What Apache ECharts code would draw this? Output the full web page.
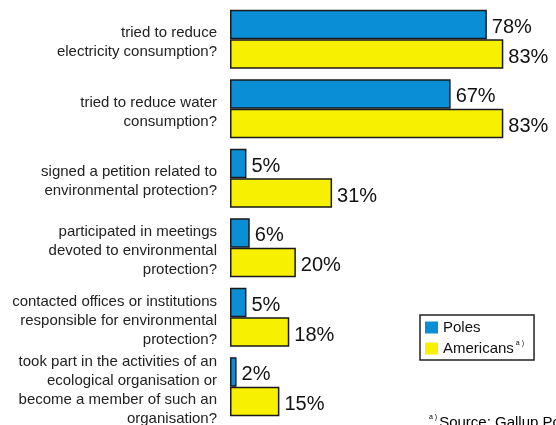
<!DOCTYPE html>
<html lang="en">

<head>
    <meta charset="UTF-8">
    <title>activities</title>
    <style>
        html,
        body,
        #chart {
            margin: 0;
            padding: 0;
            overflow: hidden;
            width: 100%;
            height: 100%;
            background: #fff;
        }
    </style>
</head>

<body>
    <div id="chart"></div>
    <script src="https://cdn.jsdelivr.net/npm/echarts@6/dist/echarts.min.js"></script>
    <script>
        var categories = [
            "tried to reduce\nelectricity consumption?",
            "tried to reduce water\nconsumption?",
            "signed a petition related to\nenvironmental protection?",
            "participated in meetings\ndevoted to environmental\nprotection?",
            "contacted offices or institutions\nresponsible for environmental\nprotection?",
            "took part in the activities of an\necological organisation or\nbecome a member of such an\norganisation?"
        ];
        var poles = [78, 67, 5, 6, 5, 2];
        var americans = [83, 83, 31, 20, 18, 15];

        var font = "'Liberation Sans', Arial, sans-serif";
        var chart = echarts.init(document.getElementById('chart'));

        function barLabel() {
            return {
                show: true,
                position: 'right',
                distance: 5,
                offset: [0, 3],
                formatter: '{c}%',
                fontFamily: font,
                fontSize: 20,
                color: '#111'
            };
        }

        chart.setOption({
            animation: false,
            grid: {
                left: 230,
                top: 4.5,
                width: 326,
                height: 417,
                outerBoundsMode: 'none'
            },
            xAxis: {
                type: 'value',
                min: 0,
                max: 99,
                show: false
            },
            yAxis: {
                type: 'category',
                data: categories,
                inverse: true,
                axisLine: { show: false },
                axisTick: { show: false },
                axisLabel: {
                    interval: 0,
                    hideOverlap: false,
                    margin: 13,
                    align: 'right',
                    // spacer line on top pushes the block down a little
                    formatter: function (v) {
                        return '{g|\u00a0}\n' + v.split('\n').map(function (l) {
                            return '{a|' + l + '}';
                        }).join('\n');
                    },
                    rich: {
                        g: { fontSize: 1, lineHeight: 7 },
                        a: { fontFamily: font, fontSize: 15, lineHeight: 19, color: '#222' }
                    }
                }
            },
            legend: {
                orient: 'vertical',
                left: 420,
                top: 315,
                borderColor: '#222',
                borderWidth: 1.5,
                padding: [5, 10, 4, 5],
                itemGap: 5,
                itemWidth: 13,
                itemHeight: 12,
                icon: 'rect',
                itemStyle: { borderWidth: 0 },
                formatter: function (name) {
                    return name === 'Americans' ? '{t|Americans}{s|a )}' : '{t|' + name + '}';
                },
                textStyle: {
                    rich: {
                        t: { fontFamily: font, fontSize: 15, color: '#111' },
                        s: { fontFamily: font, fontSize: 7, color: '#111', padding: [0, 0, 10, 2] }
                    }
                },
                data: ['Poles', 'Americans']
            },
            graphic: [{
                type: 'text',
                left: 429,
                top: 414,
                style: {
                    text: '{s|a )}{t|Source: Gallup Poll}',
                    rich: {
                        t: { fontFamily: font, fontSize: 15, color: '#111' },
                        s: { fontFamily: font, fontSize: 7, color: '#111', padding: [0, 2, 10, 0] }
                    }
                }
            }],
            series: [{
                name: 'Poles',
                type: 'bar',
                data: poles,
                barGap: 0,
                barCategoryGap: '15%',
                itemStyle: { color: '#0A8FD6', borderColor: '#1a1a1a', borderWidth: 1.5 },
                label: barLabel()
            }, {
                name: 'Americans',
                type: 'bar',
                data: americans,
                itemStyle: { color: '#F7F000', borderColor: '#1a1a1a', borderWidth: 1.5 },
                label: barLabel()
            }]
        });
    </script>
</body>

</html>
